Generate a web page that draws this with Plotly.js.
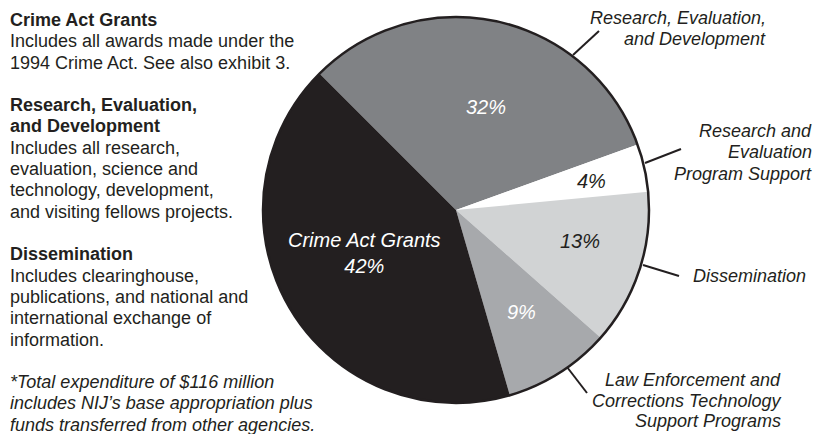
<!DOCTYPE html>
<html>
<head>
<meta charset="utf-8">
<script src="https://cdn.plot.ly/plotly-3.0.1.min.js"></script>
<style>html,body{margin:0;padding:0;background:#fff;}#chart{width:817px;height:434px;}</style>
</head>
<body>
<div id="chart"></div>
<script>
// ---- data ----
const categories = [
  'Research, Evaluation, and Development',
  'Research and Evaluation Program Support',
  'Dissemination',
  'Law Enforcement and Corrections Technology Support Programs',
  'Crime Act Grants'
];
const shares = [32, 4, 13, 9, 42];
const showNameInside = [false, false, false, false, true];
const outsideLabelLines = [
  ['Research, Evaluation,', 'and Development'],
  ['Research and', 'Evaluation', 'Program Support'],
  ['Dissemination'],
  ['Law Enforcement and', 'Corrections Technology', 'Support Programs']
];
const notesLines = [
  ['h', 'Crime Act Grants'],
  ['b', 'Includes all awards made under the'],
  ['b', '1994 Crime Act. See also exhibit 3.'],
  ['s', ''],
  ['h', 'Research, Evaluation,'],
  ['h', 'and Development'],
  ['b', 'Includes all research,'],
  ['b', 'evaluation, science and'],
  ['b', 'technology, development,'],
  ['b', 'and visiting fellows projects.'],
  ['s', ''],
  ['h', 'Dissemination'],
  ['b', 'Includes clearinghouse,'],
  ['b', 'publications, and national and'],
  ['b', 'international exchange of'],
  ['b', 'information.'],
  ['s', ''],
  ['i', '*Total expenditure of $116 million'],
  ['i', 'includes NIJ\u2019s base appropriation plus'],
  ['i', 'funds transferred from other agencies.']
];

// ---- styles / layout ----
const W = 817, H = 434;
const X = p => p / W, Y = p => 1 - p / H;
const sliceColors = ['#808285', '#ffffff', '#d1d3d4', '#a7a9ac', '#231f20'];
const textColors = ['#ffffff', '#231f20', '#231f20', '#ffffff', '#ffffff'];
const FONT = '"Liberation Sans", Arial, sans-serif';
const ink = '#231f20';
const cx = 456, cy = 210, R = 193;

const trace = {
  type: 'pie',
  labels: categories,
  values: shares,
  sort: false,
  direction: 'clockwise',
  rotation: -45,
  textinfo: 'none',
  marker: {colors: sliceColors, line: {width: 0}},
  domain: {x: [X(cx - R), X(cx + R)], y: [Y(cy + R), Y(cy - R)]},
  hoverinfo: 'label+percent',
  showlegend: false
};

const annotations = [];

// left-hand notes
let k = 0;
notesLines.forEach(([kind, txt]) => {
  if (kind !== 's') {
    annotations.push({
      xref: 'paper', yref: 'paper', x: X(8), y: Y(20 + 21.3 * k), xanchor: 'left', yanchor: 'middle',
      showarrow: false,
      text: kind === 'h' ? '<b>' + txt + '</b>' : (kind === 'i' ? '<i>' + txt + '</i>' : txt),
      font: {family: FONT, size: 18, color: ink}
    });
  }
  k++;
});

// in-slice labels
const insidePos = [[486, 107], [591, 181], [580, 241], [521, 312], [364, 253]];
shares.forEach((v, i) => {
  const txt = (showNameInside[i] ? categories[i] + '<br>' : '') + v + '%';
  annotations.push({
    xref: 'paper', yref: 'paper', x: X(insidePos[i][0]), y: Y(insidePos[i][1]),
    xanchor: 'center', yanchor: 'middle', showarrow: false, align: 'center',
    text: '<i>' + txt + '</i>',
    font: {family: FONT, size: 20, color: textColors[i]}
  });
});

// outside labels
const outPos = [
  {x: 768, y: 18, step: 21.5},
  {x: 814, y: 131, step: 21.4},
  {x: 808, y: 276, step: 21.5},
  {x: 783, y: 380, step: 20.6}
];
outsideLabelLines.forEach((lines, i) => {
  lines.forEach((t, j) => {
    annotations.push({
      xref: 'paper', yref: 'paper', x: X(outPos[i].x), y: Y(outPos[i].y + outPos[i].step * j),
      xanchor: 'right', yanchor: 'middle', align: 'right', showarrow: false,
      text: '<i>' + t + '</i>',
      font: {family: FONT, size: 18, color: ink}
    });
  });
});

const leaders = [
  [573, 55, 599, 31],
  [645, 163, 681, 149],
  [643, 265, 679, 276],
  [567, 367, 587, 393]
];
const shapes = leaders.map(([x0, y0, x1, y1]) => ({
  type: 'line', xref: 'paper', yref: 'paper',
  x0: X(x0), y0: Y(y0), x1: X(x1), y1: Y(y1),
  line: {color: ink, width: 2}
}));
shapes.push({
  type: 'circle', xref: 'paper', yref: 'paper',
  x0: X(cx - R), x1: X(cx + R), y0: Y(cy + R), y1: Y(cy - R),
  line: {color: ink, width: 2.5}, fillcolor: 'rgba(0,0,0,0)'
});

const layout = {
  width: W, height: H,
  margin: {l: 0, r: 0, t: 0, b: 0},
  paper_bgcolor: '#ffffff',
  font: {family: FONT, color: ink},
  annotations: annotations,
  shapes: shapes
};

Plotly.newPlot('chart', [trace], layout, {displayModeBar: false, staticPlot: true});
</script>
</body>
</html>
